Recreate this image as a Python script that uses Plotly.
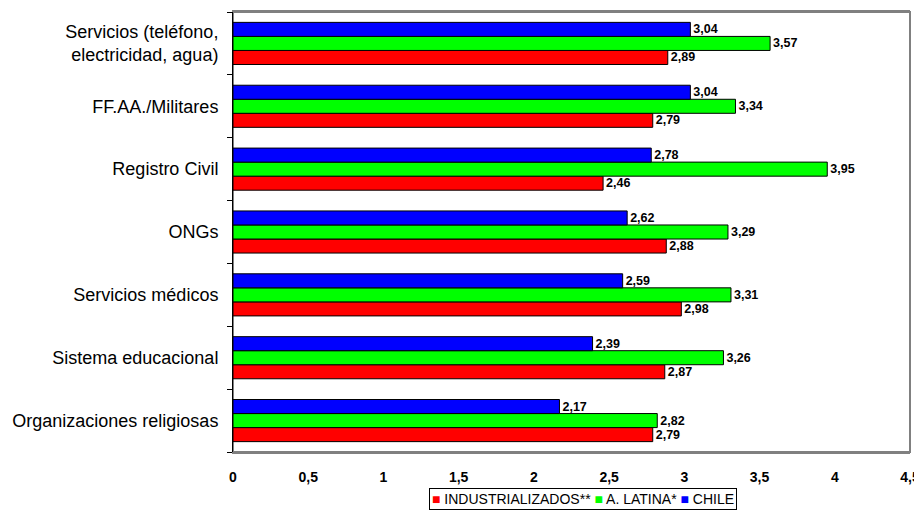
import plotly.graph_objects as go

# categories listed bottom -> top (plotly category axis starts at the bottom)
categorias = [
    "Organizaciones religiosas",
    "Sistema educacional",
    "Servicios médicos",
    "ONGs",
    "Registro Civil",
    "FF.AA./Militares",
    "Servicios (teléfono,<br>electricidad, agua)",
]
industrializados = [2.79, 2.87, 2.98, 2.88, 2.46, 2.79, 2.89]
america_latina = [2.82, 3.26, 3.31, 3.29, 3.95, 3.34, 3.57]
chile = [2.17, 2.39, 2.59, 2.62, 2.78, 3.04, 3.04]

x_ticks = [0, 0.5, 1, 1.5, 2, 2.5, 3, 3.5, 4, 4.5]
x_tick_labels = ["0", "0,5", "1", "1,5", "2", "2,5", "3", "3,5", "4", "4,5"]

series = [
    ("INDUSTRIALIZADOS**", industrializados, "#ff0000"),
    ("A. LATINA*", america_latina, "#00ff00"),
    ("CHILE", chile, "#0000ff"),
]

FONT = "Arial, Liberation Sans, sans-serif"

fig = go.Figure()
for name, vals, color in series:
    fig.add_trace(
        go.Bar(
            y=categorias,
            x=vals,
            name=name,
            orientation="h",
            marker=dict(color=color, line=dict(color="black", width=1)),
            text=[f"{v:.2f}".replace(".", ",") for v in vals],
            textposition="outside",
            textfont=dict(family=FONT, size=12.5, color="black"),
            texttemplate="<b>%{text}</b>",
            cliponaxis=False,
        )
    )

# compact legend box like the original (coloured squares + names)
legend_text = " ".join(
    f"<span style='color:{c}'>■</span> {n}" for n, _, c in series
)
fig.add_annotation(
    text=legend_text,
    xref="paper", yref="paper",
    x=0.517, y=-0.106,
    xanchor="center", yanchor="middle",
    showarrow=False,
    font=dict(family=FONT, size=14, color="black"),
    bordercolor="black", borderwidth=1, borderpad=2,
    bgcolor="white",
)

# the page body has an 8px margin, so the figure is 8px smaller each way
fig.update_layout(
    width=914,
    height=506,
    barmode="group",
    bargap=0.33,
    bargroupgap=0,
    plot_bgcolor="white",
    paper_bgcolor="white",
    margin=dict(l=225, r=12, t=4, b=62, autoexpand=False),
    font=dict(family=FONT, color="black"),
    showlegend=False,
)

fig.update_xaxes(
    range=[0, 4.5],
    tickvals=x_ticks,
    ticktext=[f"<b>{t}</b>" for t in x_tick_labels],
    tickfont=dict(size=14),
    showgrid=False,
    zeroline=False,
    showline=True,
    linecolor="#808080",
    linewidth=2,
    mirror=True,
    ticks="",
    ticklabelstandoff=11,
    ticklabeloverflow="allow",
    automargin=False,
)
fig.update_yaxes(
    type="category",
    showgrid=False,
    showline=True,
    linecolor="black",
    linewidth=1,
    ticks="outside",
    tickson="boundaries",
    ticklen=5,
    tickcolor="black",
    tickfont=dict(size=18),
    ticklabelstandoff=10,
    automargin=False,
)
# grey frame on top/right
fig.add_shape(
    type="rect", xref="paper", yref="paper", x0=0, y0=0, x1=1, y1=1,
    line=dict(color="#808080", width=2), layer="below",
)

fig.write_html("out.html")
